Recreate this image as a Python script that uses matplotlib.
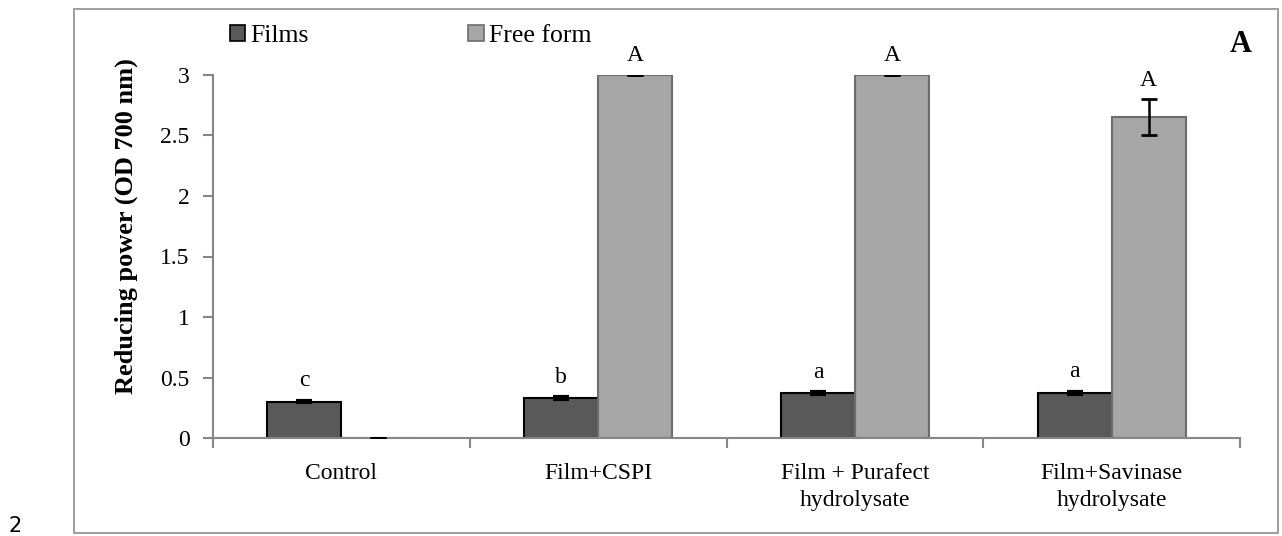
import matplotlib
matplotlib.use("Agg")
import matplotlib.pyplot as plt
import matplotlib.patches as mpatches
import numpy as np

# reducing power of film extracts vs. the free (unbound) form
categories = ["Control", "Film+CSPI", "Film + Purafect\nhydrolysate", "Film+Savinase\nhydrolysate"]
films = [0.30, 0.33, 0.37, 0.37]
films_err = [0.005, 0.005, 0.008, 0.01]
films_letters = ["c", "b", "a", "a"]
free_form = [0.0, 3.0, 3.0, 2.65]
free_form_err = [0.0, 0.004, 0.004, 0.15]
free_form_letters = ["", "A", "A", "A"]

plt.rcParams["font.family"] = ["Liberation Serif", "DejaVu Serif"]

film_color = "#595959"
free_color = "#a6a6a6"
free_edge = "#6d6d6d"
axis_color = "#868686"

W, H = 1282, 536
fig = plt.figure(figsize=(W / 100, H / 100), dpi=100)
ax = fig.add_axes([213 / W, 1 - 438 / H, (1240 - 213) / W, (438 - 75) / H])

x = np.arange(len(categories))
width = 0.288
ax.bar(x - width / 2, films, width, color=film_color, edgecolor="black",
       linewidth=1.5, zorder=2)
ax.bar(x + width / 2, free_form, width, color=free_color, edgecolor=free_edge,
       linewidth=1.5, zorder=2)
ax.errorbar(x - width / 2, films, yerr=films_err, fmt="none", ecolor="black",
            elinewidth=1.5, capsize=6, capthick=3, zorder=3)
ax.errorbar(x + width / 2, free_form, yerr=free_form_err, fmt="none",
            ecolor="black", elinewidth=1.8, capsize=6, capthick=2, zorder=3)

for xi, v, e, s in zip(x - width / 2, films, films_err, films_letters):
    ax.annotate(s, (xi, v + e), xytext=(0, 7), textcoords="offset points",
                ha="center", va="bottom", fontsize=17)
for xi, v, e, s in zip(x + width / 2, free_form, free_form_err, free_form_letters):
    ax.annotate(s, (xi, v + e), xytext=(0, 6), textcoords="offset points",
                ha="center", va="bottom", fontsize=17, annotation_clip=False)

ax.set_xlim(-0.5, len(categories) - 0.5)
ax.set_ylim(0, 3)
ax.set_yticks(np.arange(0, 3.01, 0.5))
ax.set_yticklabels(["0", "0.5", "1", "1.5", "2", "2.5", "3"])
ax.set_xticks(np.arange(-0.5, len(categories), 1.0))
ax.set_xticklabels([])
ax.set_xticks(x, minor=True)
ax.set_xticklabels(categories, minor=True)
ax.tick_params(axis="x", which="minor", length=0, pad=18, labelsize=17)
ax.tick_params(axis="x", which="major", length=7, width=1.5, color=axis_color)
ax.tick_params(axis="y", length=7, width=1.5, color=axis_color, pad=10,
               labelsize=17)
for tick in ax.get_xticklabels(minor=True):
    tick.set_linespacing(1.4)

for side in ["top", "right"]:
    ax.spines[side].set_visible(False)
for side in ["left", "bottom"]:
    ax.spines[side].set_color(axis_color)
    ax.spines[side].set_linewidth(1.5)

ax.set_ylabel("Reducing power (OD 700 nm)", fontsize=19, fontweight="bold")
ax.yaxis.set_label_coords(-0.073, 0.584)

handles = [mpatches.Patch(facecolor=film_color, edgecolor="black", linewidth=1.2),
           mpatches.Patch(facecolor=free_color, edgecolor=free_edge, linewidth=1.2)]
fig.legend(handles, ["Films", "Free form"], loc="upper left",
           bbox_to_anchor=(230 / W, 1 - 25 / H), ncol=2, frameon=False,
           fontsize=18.5, handlelength=0.6, handleheight=0.6,
           handletextpad=0.2, columnspacing=6.2, borderpad=0,
           borderaxespad=0)

# panel tag and outer frame
fig.text(1241 / W, 1 - 45 / H, "A", fontsize=22, fontweight="bold",
         ha="center", va="center")
fig.patches.append(mpatches.Rectangle((74 / W, 3 / H), (1278 - 74) / W,
                                      (527 - 3) / H, transform=fig.transFigure,
                                      fill=False, edgecolor="#8c8c8c",
                                      linewidth=1.2))
fig.text(8 / W, 1 - 526 / H, "2", fontsize=15, family="DejaVu Sans",
         ha="left", va="center")

fig.savefig("out.png", dpi=100)
